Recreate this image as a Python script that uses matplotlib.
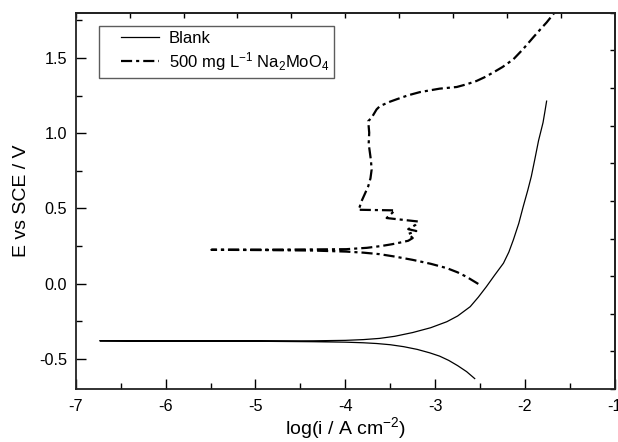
import matplotlib
matplotlib.use("Agg")
import matplotlib.pyplot as plt
from matplotlib.legend_handler import HandlerLine2D
import numpy as np

plt.rcParams["font.family"] = ["Liberation Sans", "DejaVu Sans"]
plt.rcParams["mathtext.fontset"] = "custom"
plt.rcParams["mathtext.rm"] = "Liberation Sans"
plt.rcParams["mathtext.it"] = "Liberation Sans:italic"

# Blank: cathodic end -> Ecorr -> anodic end
blank_logi = [-2.56, -2.65, -2.75, -2.85, -2.95, -3.06, -3.20, -3.35,
              -3.50, -3.65, -3.80, -4.00, -4.36, -5.00, -6.00, -6.73,
              -6.00, -5.00, -4.36, -4.00, -3.80, -3.62, -3.45, -3.25,
              -3.05, -2.87, -2.75, -2.61, -2.52, -2.43, -2.34, -2.24,
              -2.18, -2.13, -2.07, -2.02, -1.97, -1.93, -1.89, -1.85,
              -1.80, -1.78, -1.76]
blank_e = [-0.631, -0.585, -0.545, -0.510, -0.482, -0.460, -0.437, -0.419,
           -0.406, -0.398, -0.393, -0.389, -0.386, -0.383, -0.381, -0.380,
           -0.381, -0.381, -0.380, -0.377, -0.372, -0.364, -0.350, -0.325,
           -0.293, -0.253, -0.215, -0.153, -0.090, -0.020, 0.055, 0.136,
           0.210, 0.291, 0.400, 0.513, 0.620, 0.713, 0.830, 0.950,
           1.070, 1.140, 1.213]

# 500 mg/L Na2MoO4: cathodic end -> Ecorr -> anodic end
moly_logi = [-2.52, -2.65, -2.75, -2.87, -3.05, -3.25, -3.45, -3.62,
             -3.80, -3.99, -4.36, -4.90, -5.49,
             -5.00, -4.50, -3.99, -3.76, -3.60, -3.48, -3.39, -3.30,
             -3.25, -3.30, -3.21, -3.30, -3.22, -3.19, -3.54, -3.448,
             -3.857, -3.84, -3.82, -3.78, -3.745, -3.72, -3.707, -3.715,
             -3.726, -3.74, -3.734, -3.745, -3.707, -3.652, -3.615, -3.50,
             -3.43, -3.30, -3.17, -2.95, -2.76, -2.65, -2.54, -2.45,
             -2.355, -2.25, -2.13, -2.02, -1.91, -1.83, -1.76, -1.67]
moly_e = [-0.002, 0.045, 0.075, 0.103, 0.132, 0.158, 0.180, 0.196,
          0.206, 0.213, 0.220, 0.223, 0.225,
          0.226, 0.227, 0.229, 0.238, 0.250, 0.262, 0.273, 0.285,
          0.303, 0.330, 0.350, 0.362, 0.390, 0.413, 0.436, 0.487,
          0.491, 0.510, 0.547, 0.600, 0.647, 0.700, 0.758, 0.820,
          0.869, 0.930, 1.003, 1.080, 1.103, 1.158, 1.180, 1.210,
          1.225, 1.252, 1.273, 1.296, 1.307, 1.325, 1.347, 1.372,
          1.403, 1.440, 1.491, 1.560, 1.636, 1.690, 1.736, 1.803]

x_ticks = [-7, -6, -5, -4, -3, -2, -1]
y_ticks = [-0.5, 0.0, 0.5, 1.0, 1.5]

fig = plt.figure(figsize=(6.18, 4.42), dpi=100)
ax = fig.add_axes([0.1225, 0.12, 0.8725, 0.851])

ax.plot(blank_logi, blank_e, color="black", lw=0.9, label="Blank")
ax.plot(moly_logi, moly_e, color="black", lw=1.6,
        linestyle=(0, (5, 1.8, 1.4, 1.8)),
        label="500 mg L$^{-1}$ Na$_2$MoO$_4$")

ax.set_xlim(-7, -1)
ax.set_ylim(-0.70, 1.80)
ax.set_xticks(x_ticks)
ax.set_xticklabels([str(t) for t in x_ticks])
ax.set_xticks(np.arange(-6.5, -1, 1.0), minor=True)
ax.set_yticks(y_ticks)
ax.set_yticklabels([f"{t:.1f}" for t in y_ticks])
ax.set_yticks(np.arange(-0.25, 1.8, 0.5), minor=True)

ax.tick_params(which="both", direction="in", labelsize=11.7, width=1.0,
               top=False, right=False)
ax.tick_params(which="major", length=7)
ax.tick_params(which="minor", length=4)
ax.tick_params(axis="x", pad=7)
ax.tick_params(axis="y", pad=6)

# top / right axes carry their own small ticks without labels
top = ax.secondary_xaxis("top")
top.set_xticks(np.arange(-7, -1.01, 0.6))
top.set_xticklabels([])
top.tick_params(direction="in", length=3.5, width=1.0)
right = ax.secondary_yaxis("right")
right.set_yticks(np.arange(-0.7, 1.81, 0.25))
right.set_yticklabels([])
right.tick_params(direction="in", length=3.5, width=1.0)

for sp in list(ax.spines.values()) + [top.spines["top"], right.spines["right"]]:
    sp.set_linewidth(1.3)
    sp.set_color("#222222")

ax.set_xlabel("log(i / A cm$^{-2}$)", fontsize=14, labelpad=1)
ax.set_ylabel("E vs SCE / V", fontsize=14, labelpad=7)

leg = ax.legend(loc="upper left", bbox_to_anchor=(0.043, 0.966),
                fontsize=12, frameon=True, fancybox=False,
                handlelength=3.3, borderaxespad=0, borderpad=0.3,
                labelspacing=0.25, handletextpad=0.6,
                handler_map={ln: HandlerLine2D(xpad=1.0) for ln in ax.get_lines()})
leg.get_frame().set_edgecolor("#333333")
leg.get_frame().set_linewidth(1.0)

fig.savefig("out.png", dpi=100)
